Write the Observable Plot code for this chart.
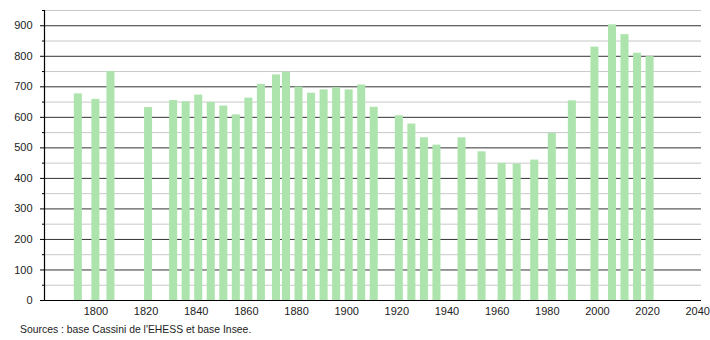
<!DOCTYPE html>
<html>
<head>
<meta charset="utf-8">
<script src="https://cdn.jsdelivr.net/npm/d3@7"></script>
<script src="https://cdn.jsdelivr.net/npm/@observablehq/plot@0.6"></script>
<style>
  html, body { margin: 0; padding: 0; background: #fff; }
  #caption { font: 10.4px "Liberation Sans", Arial, sans-serif; color: #222; margin: 6px 0 0 20px; }
</style>
</head>
<body>
<div id="chart"></div>
<div id="caption">Sources : base Cassini de l'EHESS et base Insee.</div>
<script>
const years = [1793, 1800, 1806, 1821, 1831, 1836, 1841, 1846, 1851, 1856, 1861, 1866, 1872, 1876, 1881, 1886, 1891, 1896, 1901, 1906, 1911, 1921, 1926, 1931, 1936, 1946, 1954, 1962, 1968, 1975, 1982, 1990, 1999, 2006, 2011, 2016, 2021];
const population = [677, 659, 750, 632, 655, 651, 673, 649, 637, 608, 663, 708, 739, 748, 699, 679, 690, 697, 690, 706, 633, 605, 578, 533, 509, 533, 487, 449, 447, 460, 548, 654, 830, 903, 871, 810, 799];
const xTicks = [1800, 1820, 1840, 1860, 1880, 1900, 1920, 1940, 1960, 1980, 2000, 2020, 2040];
const yMajor = [0, 100, 200, 300, 400, 500, 600, 700, 800, 900];
const yMinor = [50, 150, 250, 350, 450, 550, 650, 750, 850, 950];

const data = years.map((y, i) => ({year: y, pop: population[i]}));
const halfW = 1.6;

const chart = Plot.plot({
  width: 710,
  height: 318,
  marginLeft: 44,
  marginRight: 9,
  marginTop: 10,
  marginBottom: 18,
  style: {fontFamily: "'Liberation Sans', Arial, sans-serif", fontSize: "11px", color: "#222", background: "#fff"},
  x: {domain: [1779.5, 2041.5], label: null},
  y: {domain: [0, 950], label: null},
  marks: [
    Plot.ruleY(yMinor, {stroke: "#c8c8c8", strokeWidth: 1}),
    Plot.ruleY(yMajor.filter(d => d > 0), {stroke: "#333", strokeWidth: 1}),
    Plot.rectY(data, {x1: d => d.year - halfW, x2: d => d.year + halfW, y1: 0, y2: "pop", fill: "#ade4ad"}),
    Plot.axisY({ticks: yMinor, tickSize: 2, tickFormat: () => "", stroke: "#000"}),
    Plot.axisY({ticks: yMajor, tickSize: 4, tickPadding: 8, stroke: "#000", fill: "#222"}),
    Plot.axisX({ticks: xTicks, tickSize: 0, tickPadding: 7, tickFormat: d => String(d), fill: "#222"}),
    Plot.ruleY([0], {stroke: "#000", strokeWidth: 1.2}),
    Plot.ruleX([1779.5], {stroke: "#000", strokeWidth: 1.2})
  ]
});
document.getElementById("chart").appendChild(chart);
</script>
</body>
</html>
